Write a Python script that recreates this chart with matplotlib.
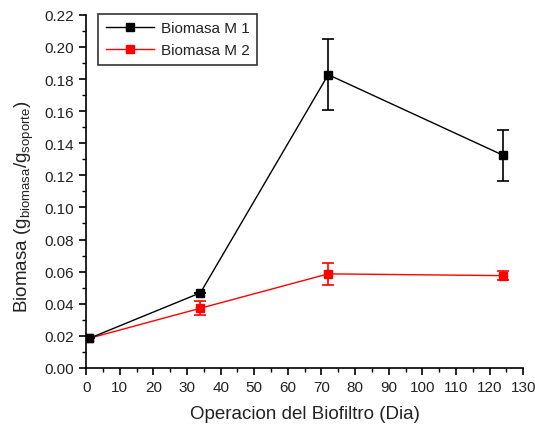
import numpy as np
import matplotlib.pyplot as plt
from matplotlib.ticker import MultipleLocator

plt.rcParams['font.family'] = ['Liberation Sans', 'DejaVu Sans']
plt.rcParams['mathtext.fontset'] = 'custom'
plt.rcParams['mathtext.rm'] = 'Liberation Sans'
plt.rcParams['mathtext.it'] = 'Liberation Sans'

# dias de operacion
dias = [1, 34, 72, 124]

# biomasa en cada medio (g biomasa / g soporte)
biomasa_m1 = [0.0185, 0.0468, 0.1827, 0.1325]
error_m1 = [0.0, 0.0, 0.022, 0.016]
biomasa_m2 = [0.0185, 0.0372, 0.0586, 0.0575]
error_m2 = [0.0, 0.0045, 0.0067, 0.003]

txt = '#222222'

fig = plt.figure(figsize=(5.35, 4.27), dpi=100)
ax = fig.add_axes([0.161, 0.136, 0.817, 0.827])

eb1 = ax.errorbar(dias, biomasa_m1, yerr=error_m1, color='black', marker='s',
                  markersize=6, linewidth=1.0, elinewidth=1.2, capsize=4,
                  capthick=1.2, zorder=3)
eb2 = ax.errorbar(dias, biomasa_m2, yerr=error_m2, color='red', marker='s',
                  markersize=6, linewidth=1.0, elinewidth=1.2, capsize=4,
                  capthick=1.2, zorder=2)

ax.set_xlim(0, 130)
ax.set_ylim(0, 0.22)
ax.xaxis.set_major_locator(MultipleLocator(10))
ax.xaxis.set_minor_locator(MultipleLocator(5))
ax.yaxis.set_major_locator(MultipleLocator(0.02))
ax.yaxis.set_minor_locator(MultipleLocator(0.01))
ax.yaxis.set_major_formatter(plt.FormatStrFormatter('%.2f'))

ax.spines['top'].set_visible(False)
ax.spines['right'].set_visible(False)
for s in ('left', 'bottom'):
    ax.spines[s].set_linewidth(1.2)

ax.tick_params(which='major', direction='out', length=5, width=1.2,
               labelsize=11, labelcolor=txt)
ax.tick_params(which='minor', direction='out', length=3, width=1.0)

ax.set_xlabel('Operacion del Biofiltro (Dia)', fontsize=13.5, color=txt,
              labelpad=8)
ax.set_ylabel(r'Biomasa (g$_{\mathrm{biomasa}}$/g$_{\mathrm{soporte}}$)',
              fontsize=13.5, color=txt)
ax.yaxis.set_label_coords(-0.115, 0.46)

# leyenda solo con linea y marcador
leg = ax.legend([eb1.lines[0], eb2.lines[0]], ['Biomasa M 1', 'Biomasa M 2'],
                loc='upper left', bbox_to_anchor=(0.027, 1.003),
                borderaxespad=0, fontsize=11, frameon=True, fancybox=False,
                edgecolor='black', handlelength=3.2, handletextpad=0.4,
                borderpad=0.5, labelspacing=0.5)
leg.get_frame().set_linewidth(1.2)
for t in leg.get_texts():
    t.set_color(txt)

fig.savefig('out.png', dpi=100)
